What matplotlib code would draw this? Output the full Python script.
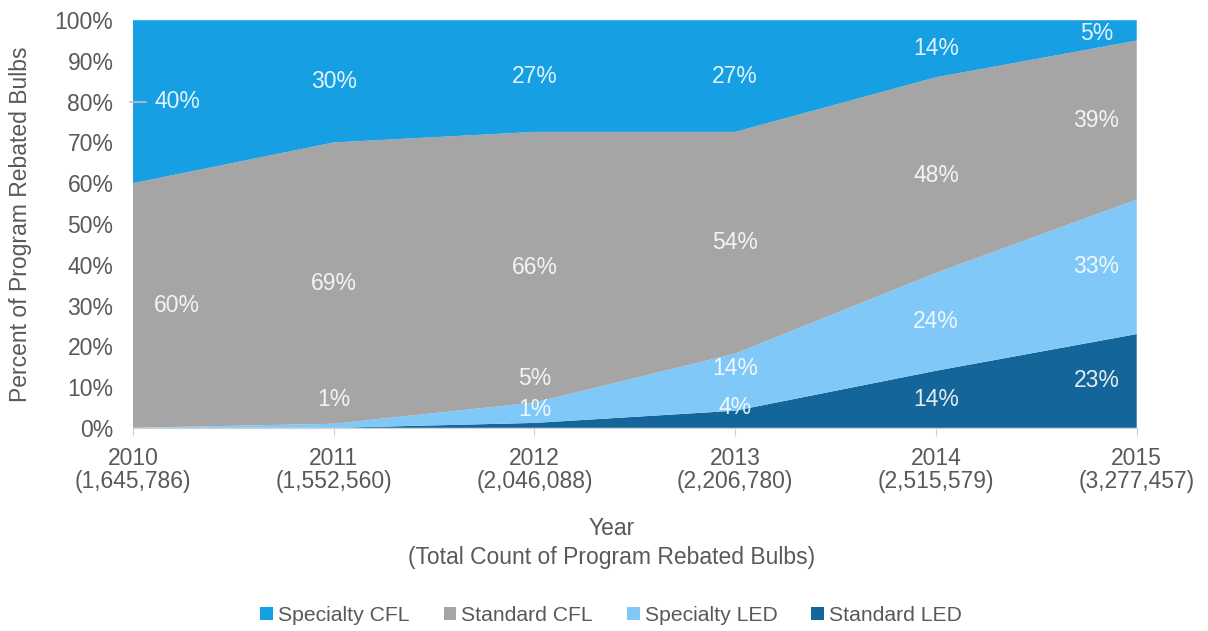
import matplotlib.pyplot as plt

years = [2010, 2011, 2012, 2013, 2014, 2015]
totals = ["1,645,786", "1,552,560", "2,046,088", "2,206,780", "2,515,579", "3,277,457"]

# shares of rebated bulbs (%), stacked bottom to top
std_led = [0, 0, 1.2, 4.2, 14, 23]
spec_led = [0, 1, 5.0, 14.0, 24, 33]
std_cfl = [60, 69, 66.4, 54.4, 48, 39]
spec_cfl = [40, 30, 27.4, 27.4, 14, 5]

series = [
    ("Standard LED", std_led, "#14669a"),
    ("Specialty LED", spec_led, "#80c8f8"),
    ("Standard CFL", std_cfl, "#a5a5a5"),
    ("Specialty CFL", spec_cfl, "#169fe3"),
]
legend_order = ["Specialty CFL", "Standard CFL", "Specialty LED", "Standard LED"]

# thin slivers near the bottom get their labels lifted
lifted = {(2011, "Specialty LED"): 7, (2012, "Standard LED"): 4.5,
          (2012, "Specialty LED"): 12, (2013, "Standard LED"): 5,
          (2013, "Specialty LED"): 14.5, (2015, "Specialty CFL"): 96.8}
label_x = {2010: 2010.22, 2015: 2014.8}

plt.rcParams['font.family'] = ['Liberation Sans', 'DejaVu Sans']
txt = "#595959"
fs = 16.5

fig = plt.figure(figsize=(12.08, 6.31), dpi=100)
ax = fig.add_axes([0.110, 0.322, 0.831, 0.646])

polys = ax.stackplot(years, std_led, spec_led, std_cfl, spec_cfl,
                     colors=[c for _, _, c in series],
                     labels=[n for n, _, _ in series], linewidth=0)

base = [0] * len(years)
for name, vals, _ in series:
    for i, yr in enumerate(years):
        v = vals[i]
        if v > 0:
            y = lifted.get((yr, name), base[i] + v / 2)
            ax.text(label_x.get(yr, yr), y, f"{v:.0f}%", ha="center", va="center",
                    fontsize=fs, color="white", alpha=0.88)
        base[i] += v

# leader for the 2010 specialty CFL label
ax.plot([2009.985, 2010.065], [80, 80], color="#bfbfbf", lw=1.2, clip_on=False)

ax.set_xlim(2010, 2015)
ax.set_ylim(0, 100)
ax.set_yticks(range(0, 101, 10))
ax.set_yticklabels([f"{t}%" for t in range(0, 101, 10)])
ax.set_xticks(years)
ax.set_xticklabels([f"{y}\n({t})" for y, t in zip(years, totals)], linespacing=1.0)
ax.tick_params(axis="y", length=0, labelsize=fs, labelcolor=txt, pad=14)
ax.tick_params(axis="x", length=6, color="#d0d0d0", labelsize=fs, labelcolor=txt, pad=8)
for s in ["top", "right", "left"]:
    ax.spines[s].set_visible(False)
ax.spines["bottom"].set_color("#d0d0d0")

ax.set_ylabel("Percent of Program Rebated Bulbs", fontsize=fs, color=txt)
ax.yaxis.set_label_coords(-0.1, 0.5)
fig.text(0.506, 0.162, "Year", ha="center", va="center", fontsize=fs, color=txt)
fig.text(0.506, 0.117, "(Total Count of Program Rebated Bulbs)", ha="center",
         va="center", fontsize=fs, color=txt)

handles = {p.get_label(): p for p in polys}
leg = fig.legend([handles[n] for n in legend_order], legend_order, loc="center",
                 bbox_to_anchor=(0.506, 0.025), ncol=4, frameon=False,
                 handlelength=0.6, handleheight=0.6, handletextpad=0.25,
                 columnspacing=1.6, fontsize=15.2)
for t in leg.get_texts():
    t.set_color(txt)

fig.savefig("out.png", dpi=100)
